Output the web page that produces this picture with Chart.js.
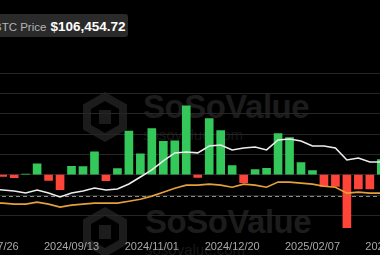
<!DOCTYPE html>
<html>
<head>
<meta charset="utf-8">
<script src="https://cdn.jsdelivr.net/npm/chart.js@4.4.1/dist/chart.umd.min.js"></script>
<style>
html,body{margin:0;padding:0;background:#000}
body{width:380px;height:255px;overflow:hidden;position:relative;font-family:"Liberation Sans",Arial,sans-serif}
.wm{position:absolute;color:#1c1c1c;font-weight:bold;font-size:33px;letter-spacing:-0.5px;white-space:nowrap}
.wm2{position:absolute;color:#181818;font-size:15px;white-space:nowrap}
.hex{position:absolute;width:44px;height:50px;background:#1c1c1c;clip-path:polygon(50% 0,100% 25%,100% 75%,50% 100%,0 75%,0 25%)}
.hex i{position:absolute;left:8px;top:9px;width:28px;height:32px;background:#000;clip-path:polygon(50% 0,100% 25%,100% 75%,50% 100%,0 75%,0 25%)}
.hex b{position:absolute;left:16px;top:18px;width:12px;height:14px;background:#1c1c1c}
#head{position:absolute;left:-12px;top:14px;height:23px;width:140px;background:#2a2a2a;border-radius:3px;line-height:23px;padding-left:6px;box-sizing:border-box;white-space:nowrap}
#head .k{color:#b4b4b4;font-size:11.5px}
#head .v{color:#fff;font-size:13.5px;font-weight:bold;margin-left:4px}
#c{position:absolute;left:-26px;top:0}
</style>
</head>
<body>
<div class="hex" style="left:83px;top:92px"><i></i><b></b></div>
<div class="wm" style="left:143px;top:88px">SoSoValue</div>
<div class="wm2" style="left:143px;top:126px">sosovalue.com</div>
<div class="hex" style="left:83px;top:207px"><i></i><b></b></div>
<div class="wm" style="left:145px;top:203px">SoSoValue</div>
<div class="wm2" style="left:145px;top:241px">sosovalue.com</div>
<canvas id="c" width="436" height="255"></canvas>
<div id="head"><span class="k">BTC Price</span><span class="v">$106,454.72</span></div>
<script>
// weekly buckets (fridays)
const weeks=["2024/07/19","2024/07/26","2024/08/02","2024/08/09","2024/08/16","2024/08/23","2024/08/30",
"2024/09/06","2024/09/13","2024/09/20","2024/09/27","2024/10/04","2024/10/11","2024/10/18","2024/10/25",
"2024/11/01","2024/11/08","2024/11/15","2024/11/22","2024/11/29","2024/12/06","2024/12/13","2024/12/20","2024/12/27",
"2025/01/03","2025/01/10","2025/01/17","2025/01/24","2025/01/31","2025/02/07","2025/02/14","2025/02/21","2025/02/28",
"2025/03/07","2025/03/14","2025/03/21","2025/03/28","2025/04/04"]

// net inflow, $B
const netFlow=[null,null,-0.08,-0.15,0.03,0.53,-0.28,-0.74,0.41,0.40,1.12,-0.30,0.30,2.14,1.03,2.27,1.64,1.67,3.38,-0.14,
2.76,2.17,0.45,-0.39,0.25,0.31,2.02,1.82,0.59,0.20,-0.58,-0.58,-2.61,-0.70,-0.70,0.74,null,null]

// BTC price, $K
const btcPrice=[null,61.0,60.1,59.2,57.4,60.1,57.4,53.7,57.4,59.2,61.9,60.1,61.0,65.5,71.9,78.3,86.5,93.8,94.7,93.8,
100.1,101.0,96.5,98.3,99.2,96.5,105.6,106.5,104.7,100.1,100.1,98.3,87.4,89.2,85.6,85.6,null,null]

// cumulative net inflow, $B
const cumFlow=[null,17.8,17.8,16.8,16.8,18.8,16.8,13.8,15.8,16.8,17.8,17.8,17.8,19.8,21.8,24.9,28.9,32.9,36.0,36.0,
37.0,36.0,33.9,37.0,36.0,33.9,39.0,39.0,38.0,37.0,34.9,33.9,27.9,28.9,27.9,27.9,null,null]

const refLevel=-1.05
const green="#34c759",red="#ff453a"

const refLine={
  id:"refLine",
  beforeDatasetsDraw(ch){
    const a=ch.chartArea,y=ch.scales.y.getPixelForValue(refLevel),g=ch.ctx
    g.save();g.strokeStyle="#8c8c8c";g.lineWidth=1;g.setLineDash([4,3])
    g.beginPath();g.moveTo(a.left,Math.round(y)+0.5);g.lineTo(a.right,Math.round(y)+0.5);g.stroke();g.restore()
  }
}

new Chart(document.getElementById("c"),{
  type:"bar",
  data:{labels:weeks,datasets:[
    {type:"line",data:btcPrice,yAxisID:"yP",borderColor:"#ededed",borderWidth:1.6,pointRadius:0,tension:0,order:1},
    {type:"line",data:cumFlow,yAxisID:"yC",borderColor:"#e5a03a",borderWidth:1.6,pointRadius:0,tension:0,order:2},
    {data:netFlow,yAxisID:"y",backgroundColor:netFlow.map(v=>v<0?red:green),barThickness:8,order:3}
  ]},
  options:{
    responsive:false,animation:false,devicePixelRatio:1,
    layout:{padding:{top:73,bottom:0,left:0,right:0}},
    plugins:{legend:{display:false},tooltip:{enabled:false}},
    scales:{
      x:{grid:{display:false,drawTicks:false},border:{display:false},
        afterFit:s=>{s.height=19.3},
        ticks:{color:"#a8a8a8",font:{size:11,family:"Liberation Sans"},autoSkip:false,maxRotation:0,padding:5,
          callback:(v,i)=>(i>=1&&(i-1)%7===0)?weeks[i]:""}},
      y:{min:-3,max:5,ticks:{display:false,stepSize:1},border:{display:false},
        afterFit:s=>{s.width=0},
        grid:{drawTicks:false,color:c=>c.tick.value===-3?"rgba(0,0,0,0)":"#262626"}},
      yP:{display:false,min:18.5,max:166.5},
      yC:{display:false,min:-15,max:149}
    }
  },
  plugins:[refLine]
})
</script>
</body>
</html>
